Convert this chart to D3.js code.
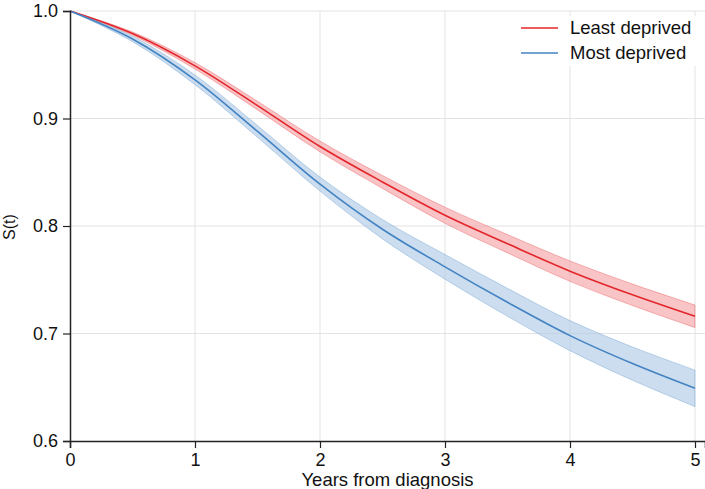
<!DOCTYPE html>
<html>
<head>
<meta charset="utf-8">
<script src="https://cdn.jsdelivr.net/npm/d3@7"></script>
<style>
  body { margin: 0; background: #fff; }
  text { font-family: "Liberation Sans", Arial, sans-serif; }
</style>
</head>
<body>
<div class="chart"></div>
<script>
var years = [0, 0.5, 1, 1.5, 2, 2.5, 3, 3.5, 4, 4.5, 5]

var leastS = [1.0, 0.979, 0.949, 0.912, 0.874, 0.841, 0.810, 0.7835, 0.758, 0.736, 0.716]
var leastLo = [1.0, 0.9775, 0.946, 0.908, 0.869, 0.835, 0.8025, 0.775, 0.7485, 0.726, 0.7055]
var leastHi = [1.0, 0.9805, 0.952, 0.916, 0.879, 0.847, 0.8175, 0.792, 0.7675, 0.746, 0.7265]

var mostS = [1.0, 0.974, 0.936, 0.888, 0.839, 0.797, 0.762, 0.729, 0.698, 0.672, 0.649]
var mostLo = [1.0, 0.9715, 0.9315, 0.8825, 0.8325, 0.788, 0.7505, 0.716, 0.684, 0.6565, 0.632]
var mostHi = [1.0, 0.9765, 0.9405, 0.8935, 0.8455, 0.806, 0.7735, 0.742, 0.712, 0.6875, 0.666]

var xTicks = [0, 1, 2, 3, 4, 5]
var yTicks = [0.6, 0.7, 0.8, 0.9, 1.0]
var groups = ["Least deprived", "Most deprived"]

var W = 705, H = 489
var margin = {left: 70, right: 0, top: 11, bottom: 48}

var svg = d3.select(".chart").append("svg").attr("width", W).attr("height", H)

var x = d3.scaleLinear().domain([0, 5.08]).range([margin.left, W - margin.right])
var y = d3.scaleLinear().domain([0.6, 1.0]).range([H - margin.bottom, margin.top])

// grid
svg.append("g").selectAll("line").data(xTicks.slice(1)).enter().append("line")
  .attr("x1", d => x(d)).attr("x2", d => x(d))
  .attr("y1", y(1.0)).attr("y2", y(0.6))
  .style("stroke", "#e3e3e3").style("stroke-width", 1)
svg.append("g").selectAll("line").data(yTicks.slice(1)).enter().append("line")
  .attr("x1", x(0)).attr("x2", W)
  .attr("y1", d => y(d)).attr("y2", d => y(d))
  .style("stroke", "#e3e3e3").style("stroke-width", 1.2)

var series = [
  {name: groups[0], s: leastS, lo: leastLo, hi: leastHi, color: "#e3262b", fill: "#f4a5a8"},
  {name: groups[1], s: mostS, lo: mostLo, hi: mostHi, color: "#4383c2", fill: "#afcbe6"}
]

var area = d3.area().curve(d3.curveCatmullRom)
var line = d3.line().curve(d3.curveCatmullRom)

series.forEach(function(sr) {
  var pts = years.map((t, i) => ({t: t, s: sr.s[i], lo: sr.lo[i], hi: sr.hi[i]}))
  svg.append("path").datum(pts)
    .attr("d", area.x(d => x(d.t)).y0(d => y(d.lo)).y1(d => y(d.hi)))
    .style("fill", sr.fill).style("fill-opacity", 0.65)
    .style("stroke", sr.color).style("stroke-opacity", 0.3).style("stroke-width", 1)
  svg.append("path").datum(pts)
    .attr("d", line.x(d => x(d.t)).y(d => y(d.s)))
    .style("fill", "none").style("stroke", sr.color).style("stroke-width", 1.6)
})

// axes
svg.append("g").attr("transform", "translate(0," + y(0.6) + ")")
  .call(d3.axisBottom(x).tickValues(xTicks).tickFormat(d3.format("d")).tickSizeOuter(0).tickSize(7).tickPadding(5))
svg.append("g").attr("transform", "translate(" + x(0) + ",0)")
  .call(d3.axisLeft(y).tickValues(yTicks).tickFormat(d3.format(".1f")).tickSizeOuter(0).tickSize(7).tickPadding(5))
svg.selectAll(".domain").style("stroke", "#222").style("stroke-width", 1.5)
svg.selectAll(".tick line").style("stroke", "#222").style("stroke-width", 1.2)
svg.selectAll(".tick text").style("font-size", "18px").style("fill", "#111")
  .style("font-family", "'Liberation Sans', Arial, sans-serif")

svg.append("text").attr("x", (x(0) + W) / 2).attr("y", 486).attr("text-anchor", "middle")
  .text("Years from diagnosis").style("font-size", "18.5px").style("fill", "#111")
svg.append("text").attr("transform", "translate(15," + (y(0.8) + 1) + ") rotate(-90)")
  .attr("text-anchor", "middle").text("S(t)").style("font-size", "16px").style("fill", "#111")

// legend
svg.append("rect").attr("x", 508).attr("y", 16).attr("width", 194).attr("height", 50).style("fill", "#fff")
series.forEach(function(sr, i) {
  var ly = 28 + i * 25
  svg.append("line").attr("x1", 521).attr("x2", 558).attr("y1", ly).attr("y2", ly)
    .style("stroke", sr.color).style("stroke-width", 1.6)
  svg.append("text").attr("x", 570).attr("y", ly + 1).attr("dominant-baseline", "middle")
    .text(sr.name).style("font-size", "18.5px").style("fill", "#111")
})
</script>
</body>
</html>
